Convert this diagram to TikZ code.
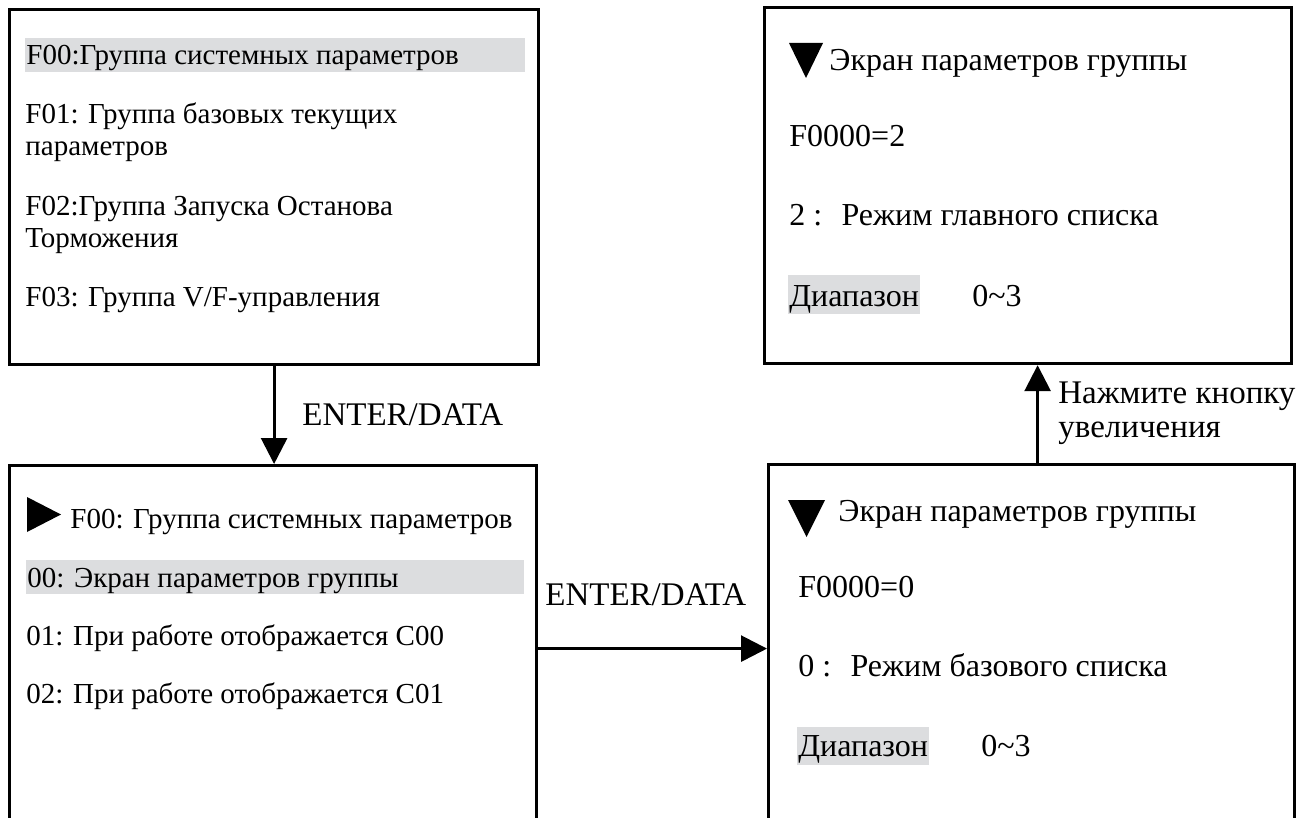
\documentclass[tikz,border=0pt]{standalone}
\usepackage{fontspec}
\setmainfont{Liberation Serif}
\usepackage{tikz}
\usetikzlibrary{arrows.meta,positioning,calc}
\definecolor{barbg}{RGB}{220,221,223}
\tikzset{
  screen/.style={draw=black,line width=1.6pt,anchor=north west,inner sep=0pt},
  entry/.style={anchor=base west,inner sep=0pt,align=left,
                font=\fontsize{14.5pt}{16.5pt}\selectfont},
  bigentry/.style={entry,font=\fontsize{16pt}{17pt}\selectfont},
  hlentry/.style={entry,fill=barbg,inner xsep=0.5pt,text height=13.5pt,text depth=3.5pt},
  flow/.style={-{Triangle[width=13pt,length=13pt]},line width=1.4pt,draw=black},
  flowlabel/.style={anchor=base west,inner sep=0pt,align=left,
                    font=\fontsize{16.5pt}{17pt}\selectfont}
}
\begin{document}
\begin{tikzpicture}[x=0.5pt,y=-0.5pt]
  \useasboundingbox (0,0) rectangle (1310,818);
  % the four screens
  \node[screen,minimum width=264.5pt,minimum height=177.5pt] (groups) at (8,8) {};
  \node[screen,minimum width=263.5pt,minimum height=183pt] (menu) at (8,464) {};
  \node[screen,minimum width=263pt,minimum height=184pt] (value0) at (767,463) {};
  \node[screen,minimum width=263.5pt,minimum height=178pt] (value2) at (763,6) {};

  % group list (multi-line entries sit on their last line)
  \node[hlentry] (g0) at (25,65) {\makebox[249pt][l]{F00:Группа системных параметров}};
  \node[entry] (g1) at (25,156) {F01: Группа базовых текущих\\параметров};
  \node[entry] (g2) at (25,248) {F02:Группа Запуска Останова\\Торможения};
  \node[entry] (g3) at (25,306) {F03: Группа V/F-управления};

  % parameter list of F00
  \fill (27,497) -- (61,514.5) -- (27,532) -- cycle;
  \node[entry] (m0) at (70,528) {F00: Группа системных параметров};
  \node[hlentry] (m1) at (26,587) {\makebox[248pt][l]{00: Экран параметров группы}};
  \node[entry] (m2) at (26,645) {01: При работе отображается C00};
  \node[entry] (m3) at (26,703) {02: При работе отображается C01};

  % value screen, F0000=0
  \fill (788,500) -- (825,500) -- (806.5,537) -- cycle;
  \node[bigentry] (v0a) at (838,521) {Экран параметров группы};
  \node[bigentry] (v0b) at (798,597) {F0000=0};
  \node[bigentry] (v0c) at (798,676) {0 :\hspace{0.6em}Режим базового списка};
  \node[hlentry,font=\fontsize{16pt}{17pt}\selectfont,text height=14.5pt,text depth=4.5pt] (v0d) at (797,756) {Диапазон};
  \node[bigentry] (v0e) at (981,756) {0\textasciitilde 3};

  % value screen, F0000=2
  \fill (789,43) -- (823,43) -- (806,78) -- cycle;
  \node[bigentry] (v2a) at (829,71) {Экран параметров группы};
  \node[bigentry] (v2b) at (789,147) {F0000=2};
  \node[bigentry] (v2c) at (789,226) {2 :\hspace{0.6em}Режим главного списка};
  \node[hlentry,font=\fontsize{16pt}{17pt}\selectfont,text height=15.5pt,text depth=4pt] (v2d) at (788,306) {Диапазон};
  \node[bigentry] (v2e) at (972,306) {0\textasciitilde 3};

  % key labels
  \node[flowlabel] (enter1) at (302,425) {ENTER/DATA};
  \node[flowlabel] (enter2) at (545,605) {ENTER/DATA};
  \node[flowlabel] (upkey) at (1058,437) {Нажмите кнопку\\увеличения};

  % connectors
  \draw[flow] (groups.south) -- (groups.south |- menu.north);
  \draw[flow] (menu.east) -- (menu.east -| value0.west);
  \draw[flow] ([xshift=3pt]value0.north) -- ([xshift=3pt]value0.north |- value2.south);
\end{tikzpicture}
\end{document}
